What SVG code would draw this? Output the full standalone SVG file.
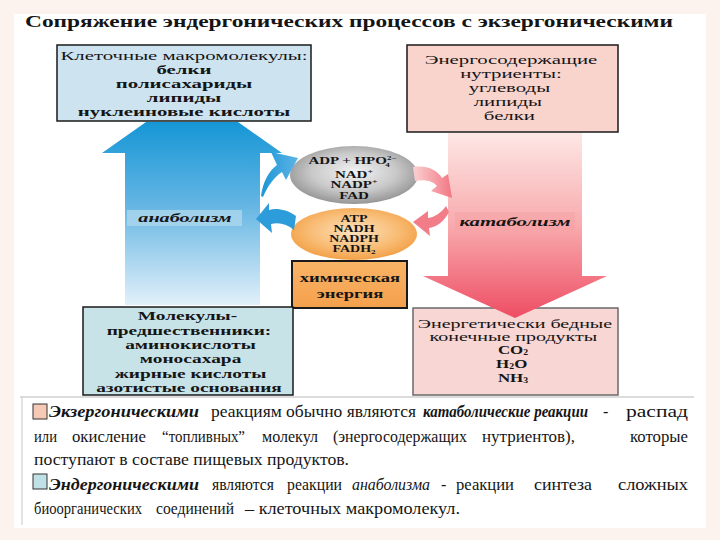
<svg xmlns="http://www.w3.org/2000/svg" width="720" height="540" viewBox="0 0 720 540">
<style>
.t{font-family:"Liberation Serif","Times New Roman",serif;fill:#151515}
.b{font-weight:bold}
.i{font-style:italic}
.c{text-anchor:middle}
.box{stroke:#1a1a1a;stroke-width:1.5}
</style>
<defs>
<linearGradient id="gBlue" gradientUnits="userSpaceOnUse" x1="0" y1="121" x2="0" y2="305">
<stop offset="0" stop-color="#1596d6"/><stop offset="0.45" stop-color="#63b5e3"/><stop offset="1" stop-color="#e2f0f9"/>
</linearGradient>
<linearGradient id="gRed" gradientUnits="userSpaceOnUse" x1="0" y1="132" x2="0" y2="320">
<stop offset="0" stop-color="#fde8e5"/><stop offset="0.5" stop-color="#f8aaad"/><stop offset="1" stop-color="#ee4b62"/>
</linearGradient>
<radialGradient id="gGrey" cx="0.5" cy="0.45" r="0.6">
<stop offset="0" stop-color="#f2f2f2"/><stop offset="0.55" stop-color="#c9c9c9"/><stop offset="1" stop-color="#8a8a8a"/>
</radialGradient>
<radialGradient id="gOrange" cx="0.5" cy="0.45" r="0.6">
<stop offset="0" stop-color="#fde2bd"/><stop offset="0.6" stop-color="#f8bb73"/><stop offset="1" stop-color="#f19a3c"/>
</radialGradient>
<linearGradient id="gChem" x1="0" y1="0" x2="0" y2="1">
<stop offset="0" stop-color="#f9b466"/><stop offset="1" stop-color="#f4a04c"/>
</linearGradient>
<linearGradient id="gBlueC" x1="0" y1="0" x2="1" y2="0">
<stop offset="0" stop-color="#1e96d6"/><stop offset="1" stop-color="#5cb4e6"/>
</linearGradient>
<linearGradient id="gPinkC" x1="0" y1="0" x2="1" y2="0">
<stop offset="0" stop-color="#fbd0d0"/><stop offset="1" stop-color="#f17784"/>
</linearGradient>
</defs>

<rect x="0" y="0" width="720" height="540" fill="#fcf3ee"/>
<rect x="14" y="14" width="692" height="514" fill="#ffffff"/>

<g id="title">
<text class="t b" x="25" y="27" font-size="16.5" textLength="648" lengthAdjust="spacingAndGlyphs">Сопряжение эндергонических процессов с экзергоническими</text>
</g>

<g id="box-macromolecules">
<rect class="box" x="57" y="45" width="254" height="76" fill="#cde4f0"/>
<g transform="translate(184,0) scale(1.6,1) translate(-184,0)">
<text class="t c" x="184" y="60" font-size="13">Клеточные макромолекулы:</text>
<text class="t b c" x="184" y="74" font-size="13">белки</text>
<text class="t b c" x="184" y="88" font-size="13">полисахариды</text>
<text class="t b c" x="184" y="102" font-size="13">липиды</text>
<text class="t b c" x="184" y="116" font-size="13">нуклеиновые кислоты</text>
</g>
</g>

<g id="box-nutrients">
<rect class="box" x="407" y="45" width="211" height="87" fill="#f9d4cd"/>
<g transform="translate(511,0) scale(1.6,1) translate(-511,0)">
<text class="t c" x="511" y="64" font-size="13">Энергосодержащие</text>
<text class="t c" x="511" y="78" font-size="13">нутриенты:</text>
<text class="t c" x="510" y="92" font-size="13">углеводы</text>
<text class="t c" x="509" y="106" font-size="13">липиды</text>
<text class="t c" x="510" y="120" font-size="13">белки</text>
</g>
</g>

<g id="ellipse-adp">
<ellipse cx="354" cy="175" rx="64" ry="29" fill="url(#gGrey)"/>
<g transform="translate(354,0) scale(1.5,1) translate(-354,0)">
<text class="t b c" x="353" y="164.5" font-size="10">ADP + HPO<tspan font-size="6" dy="-4">2−</tspan><tspan font-size="6" dx="-7.5" dy="6.5">4</tspan></text>
<text class="t b c" x="354" y="178" font-size="10">NAD<tspan font-size="6.5" dy="-4">+</tspan></text>
<text class="t b c" x="354" y="188.5" font-size="10">NADP<tspan font-size="6.5" dy="-4">+</tspan></text>
<text class="t b c" x="354" y="199" font-size="10">FAD</text>
</g>
</g>

<g id="ellipse-atp">
<ellipse cx="354" cy="234" rx="63" ry="26" fill="url(#gOrange)"/>
<g transform="translate(354,0) scale(1.4,1) translate(-354,0)">
<text class="t b c" x="354" y="222" font-size="10">ATP</text>
<text class="t b c" x="354" y="232" font-size="10">NADH</text>
<text class="t b c" x="354" y="242" font-size="10">NADPH</text>
<text class="t b c" x="354" y="252" font-size="10">FADH<tspan font-size="6.5" dy="2">2</tspan></text>
</g>
</g>

<g id="box-energy">
<rect x="292" y="261" width="115" height="47" fill="url(#gChem)" stroke="#1a1a1a" stroke-width="2"/>
<g transform="translate(350,0) scale(1.55,1) translate(-350,0)">
<text class="t b c" x="350" y="282" font-size="12">химическая</text>
<text class="t b c" x="350" y="298" font-size="12">энергия</text>
</g>
</g>

<g id="box-precursors">
<rect class="box" x="83" y="307" width="210" height="88" fill="#c8e3e8"/>
<g transform="translate(189,0) scale(1.55,1) translate(-189,0)">
<text class="t b c" x="188" y="320" font-size="12.5">Молекулы-</text>
<text class="t b c" x="189" y="335" font-size="12.5">предшественники:</text>
<text class="t b c" x="190" y="349" font-size="12.5">аминокислоты</text>
<text class="t b c" x="190" y="363.5" font-size="12.5">моносахара</text>
<text class="t b c" x="190" y="378" font-size="12.5">жирные  кислоты</text>
<text class="t b c" x="189" y="392" font-size="12.5">азотистые основания</text>
</g>
</g>

<g id="box-products">
<rect x="413" y="308" width="205" height="87" fill="#f8d6d3" stroke="#6a6a6a" stroke-width="1.5"/>
<g transform="translate(515,0) scale(1.6,1) translate(-515,0)">
<text class="t c" x="515" y="328" font-size="12.5">Энергетически  бедные</text>
<text class="t c" x="514" y="341" font-size="12.5">конечные  продукты</text>
</g>
<g transform="translate(513,0) scale(1.3,1) translate(-513,0)">
<text class="t b c" x="513" y="354" font-size="13">CO<tspan font-size="7.5" dy="1.5">2</tspan></text>
<text class="t b c" x="512" y="368" font-size="13">H<tspan font-size="7.5" dy="1.5">2</tspan><tspan dy="-1.5">O</tspan></text>
<text class="t b c" x="513" y="382" font-size="13">NH<tspan font-size="7.5" dy="1.5">3</tspan></text>
</g>
</g>

<g id="connectors">
<path d="M125,305 L125,153 L102,153 L146,122 L238,122 L282,153 L260,153 L260,305 Z" fill="url(#gBlue)"/>
<path d="M448,133 L582,133 L582,276 L607,276 L515,318 L423,276 L448,276 Z" fill="url(#gRed)"/>
<path d="M261,196 C263,182 268,172 277,165 L271,152 L298,158 L286,180 L282,172 C273,178 268,186 263,197 Z" fill="url(#gBlueC)"/>
<path d="M296,216 C286,209 276,208 269,210 L269,203 L256,219 L272,233 L271,224 C279,222 287,224 294,230 Z" fill="#2d9cdb"/>
<path d="M413,167 C427,165 437,170 442,178 L448,174 L452,198 L431,191 L437,186 C433,181 425,179 415,181 Z" fill="url(#gPinkC)"/>
<path d="M449,212 C444,222 436,227 429,228 L430,236 L413,222 L428,211 L428,218 C435,217 441,213 446,206 Z" fill="#f27d88"/>
<rect x="127" y="210" width="115" height="16" fill="#a9d5ec" opacity="0.85"/>
<g transform="translate(185,0) scale(1.55,1) translate(-185,0)">
<text class="t b i c" x="185" y="222" font-size="13">анаболизм</text>
</g>
<rect x="455" y="212" width="120" height="18" fill="#f49a9e" opacity="0.35"/>
<g transform="translate(515,0) scale(1.6,1) translate(-515,0)">
<text class="t b i c" x="515" y="226" font-size="13">катаболизм</text>
</g>
</g>

<g id="notes">
<line x1="20" y1="397" x2="694" y2="397" stroke="#b8b8b8" stroke-width="1"/>
<line x1="22" y1="397" x2="22" y2="525" stroke="#c8c8c8" stroke-width="1"/>
<rect x="33" y="404" width="14" height="15" fill="#f6c9b6" stroke="#333" stroke-width="1"/>
<text class="t b i" x="49" y="417" font-size="16" textLength="150" lengthAdjust="spacingAndGlyphs">Экзергоническими</text>
<text class="t" x="211" y="417" font-size="16" textLength="205" lengthAdjust="spacingAndGlyphs">реакциям обычно являются</text>
<text class="t b i" x="423" y="417" font-size="16" textLength="165" lengthAdjust="spacingAndGlyphs">катаболические реакции</text>
<text class="t" x="603" y="417" font-size="16">-</text>
<text class="t" x="626" y="417" font-size="16" textLength="62" lengthAdjust="spacingAndGlyphs">распад</text>
<text class="t" x="34" y="442" font-size="16" textLength="23" lengthAdjust="spacingAndGlyphs">или</text>
<text class="t" x="72" y="442" font-size="16" textLength="74" lengthAdjust="spacingAndGlyphs">окисление</text>
<text class="t" x="162" y="442" font-size="16" textLength="83" lengthAdjust="spacingAndGlyphs">“топливных”</text>
<text class="t" x="262" y="442" font-size="16" textLength="56" lengthAdjust="spacingAndGlyphs">молекул</text>
<text class="t" x="333" y="442" font-size="16" textLength="134" lengthAdjust="spacingAndGlyphs">(энергосодержащих</text>
<text class="t" x="482" y="442" font-size="16" textLength="93" lengthAdjust="spacingAndGlyphs">нутриентов),</text>
<text class="t" x="630" y="442" font-size="16" textLength="58" lengthAdjust="spacingAndGlyphs">которые</text>
<text class="t" x="34" y="465" font-size="16" textLength="315" lengthAdjust="spacingAndGlyphs">поступают в составе пищевых продуктов.</text>
<rect x="33" y="474" width="14" height="15" fill="#bfe0e4" stroke="#333" stroke-width="1"/>
<text class="t b i" x="49" y="490" font-size="16" textLength="150" lengthAdjust="spacingAndGlyphs">Эндергоническими</text>
<text class="t" x="212" y="490" font-size="16" textLength="62" lengthAdjust="spacingAndGlyphs">являются</text>
<text class="t" x="287" y="490" font-size="16" textLength="55" lengthAdjust="spacingAndGlyphs">реакции</text>
<text class="t i" x="352" y="490" font-size="16" textLength="78" lengthAdjust="spacingAndGlyphs">анаболизма</text>
<text class="t" x="441" y="490" font-size="16">-</text>
<text class="t" x="456" y="490" font-size="16" textLength="58" lengthAdjust="spacingAndGlyphs">реакции</text>
<text class="t" x="534" y="490" font-size="16" textLength="58" lengthAdjust="spacingAndGlyphs">синтеза</text>
<text class="t" x="618" y="490" font-size="16" textLength="70" lengthAdjust="spacingAndGlyphs">сложных</text>
<text class="t" x="34" y="514" font-size="16" textLength="108" lengthAdjust="spacingAndGlyphs">биоорганических</text>
<text class="t" x="156" y="514" font-size="16" textLength="78" lengthAdjust="spacingAndGlyphs">соединений</text>
<text class="t" x="245" y="514" font-size="16" textLength="215" lengthAdjust="spacingAndGlyphs">– клеточных макромолекул.</text>
</g>
</svg>
